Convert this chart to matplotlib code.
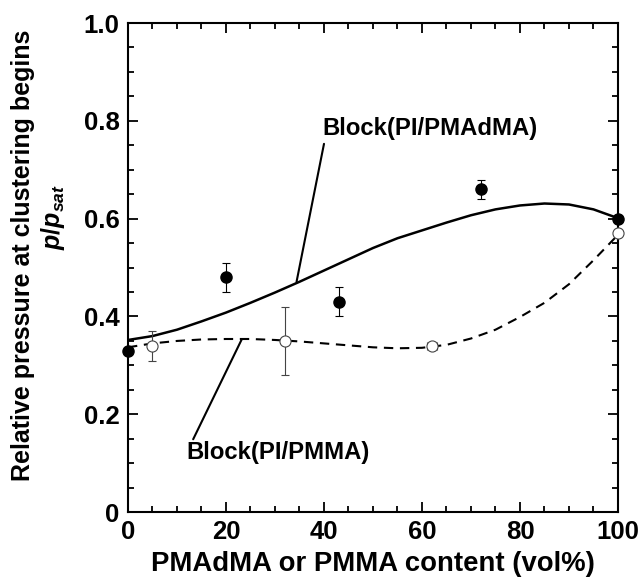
import matplotlib
matplotlib.use('Agg')
import matplotlib.pyplot as plt
from matplotlib.ticker import MultipleLocator, FuncFormatter

plt.rcParams['font.family'] = ['Liberation Sans', 'DejaVu Sans']
plt.rcParams['font.weight'] = 'bold'
plt.rcParams['mathtext.fontset'] = 'custom'
plt.rcParams['mathtext.it'] = 'Liberation Sans:bold:italic'
plt.rcParams['mathtext.rm'] = 'Liberation Sans:bold'

# measured points, Block(PI/PMAdMA) - filled
pmadma_x = [0, 20, 43, 72, 100]
pmadma_y = [0.33, 0.48, 0.43, 0.66, 0.60]
pmadma_err = [0.0, 0.03, 0.03, 0.02, 0.005]

# measured points, Block(PI/PMMA) - open
pmma_x = [5, 32, 62, 100]
pmma_y = [0.34, 0.35, 0.34, 0.57]
pmma_err = [0.03, 0.07, 0.005, 0.005]
pmma_xerr = [0, 0, 1.0, 0]

# guide curves
fit1_x = [0, 5, 10, 15, 20, 25, 30, 35, 40, 45, 50, 55, 60, 65, 70, 75, 80, 85, 90, 95, 100]
fit1_y = [0.352, 0.360, 0.373, 0.390, 0.408, 0.428, 0.449, 0.471, 0.494, 0.517, 0.540, 0.560,
          0.576, 0.592, 0.607, 0.619, 0.627, 0.631, 0.629, 0.619, 0.601]
fit2_x = [0, 5, 10, 15, 20, 25, 30, 35, 40, 45, 50, 55, 60, 65, 70, 75, 80, 85, 90, 95, 100]
fit2_y = [0.337, 0.345, 0.350, 0.353, 0.354, 0.354, 0.352, 0.349, 0.345, 0.341, 0.337, 0.335,
          0.336, 0.342, 0.355, 0.373, 0.399, 0.428, 0.466, 0.515, 0.567]

fig = plt.figure(figsize=(6.4, 5.8), dpi=100)
ax = fig.add_axes([0.2, 0.117, 0.7656, 0.8433])

ax.plot(fit1_x, fit1_y, color='black', lw=1.8)
ax.plot(fit2_x, fit2_y, color='black', lw=1.5, dashes=(4.5, 3.2))

ax.errorbar(pmadma_x, pmadma_y, yerr=pmadma_err, fmt='o', color='black',
            markersize=8, elinewidth=0.8, capsize=3, capthick=0.8,
            clip_on=False, zorder=5)
ax.errorbar(pmma_x, pmma_y, yerr=pmma_err, xerr=pmma_xerr, fmt='o', color='#444444',
            mfc='white', mec='#444444', markersize=8, mew=0.8, elinewidth=0.8,
            capsize=3, capthick=0.8, clip_on=False, zorder=5)

ax.annotate('', xy=(34.4, 0.471), xytext=(40.0, 0.753),
            arrowprops=dict(arrowstyle='-', lw=1.5, color='black', shrinkA=0, shrinkB=0))
ax.text(39.6, 0.785, 'Block(PI/PMAdMA)', fontsize=17.2, fontweight='bold',
        ha='left', va='center')
ax.annotate('', xy=(23.2, 0.353), xytext=(13.3, 0.149),
            arrowprops=dict(arrowstyle='-', lw=1.5, color='black', shrinkA=0, shrinkB=0))
ax.text(12.0, 0.121, 'Block(PI/PMMA)', fontsize=17.2, fontweight='bold',
        ha='left', va='center')

ax.set_xlim(0, 100)
ax.set_ylim(0, 1.0)
ax.xaxis.set_major_locator(MultipleLocator(20))
ax.xaxis.set_minor_locator(MultipleLocator(5))
ax.yaxis.set_major_locator(MultipleLocator(0.2))
ax.yaxis.set_minor_locator(MultipleLocator(0.05))
ax.yaxis.set_major_formatter(FuncFormatter(lambda v, p: '0' if abs(v) < 1e-9 else '%.1f' % v))
ax.tick_params(which='both', direction='in', top=True, right=True, width=1.3)
ax.tick_params(which='major', length=7, labelsize=18.5, pad=6)
ax.tick_params(which='minor', length=4)
for s in ax.spines.values():
    s.set_linewidth(1.5)

ax.set_xlabel('PMAdMA or PMMA content (vol%)', fontsize=19.8, fontweight='bold', labelpad=5)
# y label in two pieces, second line sits higher than the first
fig.text(0.036, 0.559, 'Relative pressure at clustering begins', rotation=90,
         fontsize=18, fontweight='bold', ha='center', va='center')
fig.text(0.083, 0.626, '$p/p_{sat}$', rotation=90,
         fontsize=18, fontweight='bold', ha='center', va='center')

fig.savefig('out.png', dpi=100)
